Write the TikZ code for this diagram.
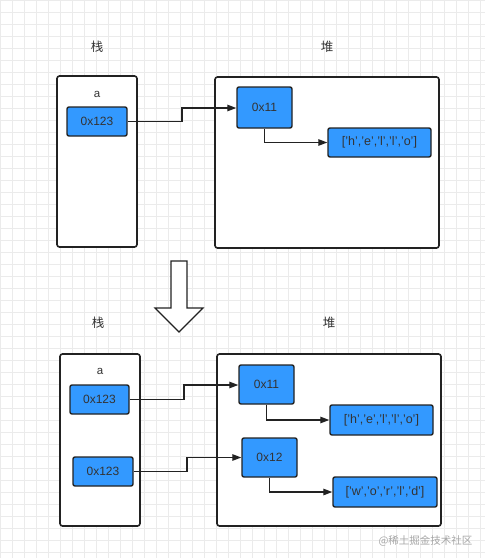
\documentclass[tikz,border=0pt]{standalone}
\usepackage{fontspec}
\setmainfont{Liberation Sans}
\newfontfamily\cjk{Noto Sans CJK SC}
\usetikzlibrary{arrows.meta}
\definecolor{boxblue}{HTML}{3399FF}
\definecolor{edge}{HTML}{222222}
\definecolor{txt}{HTML}{333333}
\tikzset{
  frame/.style={draw=edge,line width=1.6pt,rounded corners=2.5pt,fill=white},
  cell/.style={draw=edge,line width=1.4pt,rounded corners=2pt,fill=boxblue,text=txt,inner sep=0pt,font=\fontsize{12}{13}\selectfont},
  arr/.style={draw=edge,line width=1.3pt,-{Triangle[length=9pt,width=6.5pt]}},
  lbl/.style={text=txt,font=\cjk\fontsize{12.5}{14}\selectfont},
  arrtxt/.style={font=\fontsize{12.5}{13}\selectfont}
}
\begin{document}
\begin{tikzpicture}[x=1pt,y=-1pt]
\useasboundingbox (0,0) rectangle (485,558);
\fill[white] (0,0) rectangle (485,558);
\draw[black!8,line width=0.6pt,step=12pt] (0,0) grid (485,558);
% ---------- top ----------
\node[lbl] (s1) at (97,47) {栈};
\node[lbl] (h1) at (327,47) {堆};
\node[frame,minimum width=80pt,minimum height=171pt] (st1) at (97,161.5) {};
\node[frame,minimum width=224pt,minimum height=171pt] (hp1) at (327,162.5) {};
\node[lbl,font=\fontsize{11.5}{13}\selectfont] (a1) at (97,94) {a};
\node[cell,minimum width=60pt,minimum height=29pt] (p1) at (97,121.5) {0x123};
\node[cell,minimum width=55pt,minimum height=41pt] (o1) at (264.5,107.5) {0x11};
\node[cell,arrtxt,minimum width=103pt,minimum height=29pt] (v1) at (379.5,142.5) {['h','e','l','l','o']};
\draw[arr] (p1.east) -- (182,121.5) -- (182,108) -- (o1.west |- 0,108);
\draw[arr] (o1.south) -- (264.5,142.5) -- (v1.west);
% ---------- big arrow ----------
\draw[edge,line width=1.2pt,fill=white] (171,261) -- (187,261) -- (187,308) -- (203,308) -- (179,332) -- (155,308) -- (171,308) -- cycle;
% ---------- bottom ----------
\node[lbl] (s2) at (98,323) {栈};
\node[lbl] (h2) at (329,323) {堆};
\node[frame,minimum width=80pt,minimum height=172pt] (st2) at (100,440) {};
\node[frame,minimum width=224pt,minimum height=172pt] (hp2) at (329,440) {};
\node[lbl,font=\fontsize{11.5}{13}\selectfont] (a2) at (100,371) {a};
\node[cell,minimum width=59pt,minimum height=29pt] (p2) at (99.5,399.5) {0x123};
\node[cell,minimum width=60pt,minimum height=29pt] (p3) at (103,471.5) {0x123};
\node[cell,minimum width=55pt,minimum height=39pt] (o2) at (266.5,384.5) {0x11};
\node[cell,arrtxt,minimum width=103pt,minimum height=30pt] (v2) at (381.5,420) {['h','e','l','l','o']};
\node[cell,minimum width=55pt,minimum height=39pt] (o3) at (269.5,457.5) {0x12};
\node[cell,arrtxt,minimum width=104pt,minimum height=30pt] (v3) at (385,492) {['w','o','r','l','d']};
\draw[arr] (p2.east) -- (184,399.5) -- (184,385) -- (o2.west |- 0,385);
\draw[arr] (o2.south) -- (266.5,420) -- (v2.west);
\draw[arr] (p3.east) -- (187,471.5) -- (187,457.5) -- (o3.west);
\draw[arr] (o3.south) -- (269.5,492) -- (v3.west);
% watermark
\node[text=black!35,font=\cjk\fontsize{10.5}{12}\selectfont,anchor=east] (wm) at (476,541) {@稀土掘金技术社区};
\end{tikzpicture}
\end{document}
